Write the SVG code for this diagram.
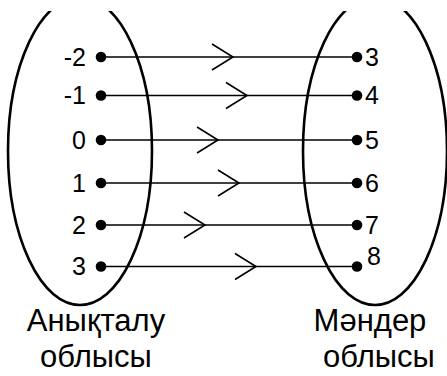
<svg xmlns="http://www.w3.org/2000/svg" width="447" height="376" viewBox="0 0 447 376">
  <style>
    .set { fill: none; stroke: #000; stroke-width: 2.6; }
    .map { fill: none; stroke: #000; stroke-width: 1.4; marker-start: url(#dot); marker-mid: url(#chev); marker-end: url(#dot); }
    .num { font-family: "Liberation Sans", "Open Sans", sans-serif; font-size: 25px; fill: #000; }
    .cap { font-family: "Liberation Sans", "Open Sans", sans-serif; font-size: 31px; fill: #000; text-anchor: middle; }
  </style>
  <defs>
    <clipPath id="top"><rect x="0" y="11" width="447" height="365"/></clipPath>
    <marker id="dot" markerUnits="userSpaceOnUse" markerWidth="14" markerHeight="14" refX="7" refY="7" orient="0">
      <circle cx="7" cy="7" r="5.3" fill="#000"/>
    </marker>
    <marker id="chev" markerUnits="userSpaceOnUse" markerWidth="26" markerHeight="30" refX="23" refY="15" orient="auto">
      <path d="M2,2 L23,15 L2,28" fill="none" stroke="#000" stroke-width="1.6"/>
    </marker>
  </defs>

  <g id="domain">
    <ellipse class="set" cx="80" cy="151" rx="72" ry="154" clip-path="url(#top)"/>
    <text class="num" x="86" y="66" text-anchor="end">-2</text>
    <text class="num" x="86" y="104" text-anchor="end">-1</text>
    <text class="num" x="86" y="149" text-anchor="end">0</text>
    <text class="num" x="86" y="192" text-anchor="end">1</text>
    <text class="num" x="86" y="234" text-anchor="end">2</text>
    <text class="num" x="86" y="275" text-anchor="end">3</text>
    <text class="cap" x="96" y="331">Анықталу</text>
    <text class="cap" x="96" y="367">облысы</text>
  </g>

  <g id="range">
    <ellipse class="set" cx="375" cy="151" rx="72" ry="154" clip-path="url(#top)"/>
    <text class="num" x="365" y="66">3</text>
    <text class="num" x="365" y="104">4</text>
    <text class="num" x="365" y="149">5</text>
    <text class="num" x="365" y="192">6</text>
    <text class="num" x="365" y="234">7</text>
    <text class="num" x="367" y="265">8</text>
    <text class="cap" x="370" y="331">Мәндер</text>
    <text class="cap" x="379" y="367">облысы</text>
  </g>

  <g id="connectors">
    <path class="map" d="M101,57 L233,57 L357,57"/>
    <path class="map" d="M101,95.5 L247,95.5 L357,95.5"/>
    <path class="map" d="M101,140 L218,140 L357,140"/>
    <path class="map" d="M101,183 L239,183 L357,183"/>
    <path class="map" d="M101,225 L205,225 L357,225"/>
    <path class="map" d="M101,266.5 L256,266.5 L357,266.5"/>
  </g>
</svg>
